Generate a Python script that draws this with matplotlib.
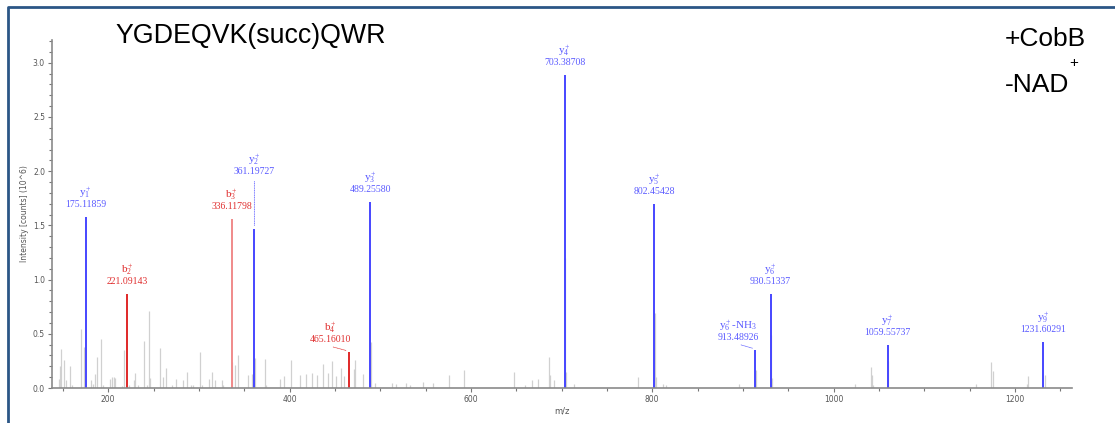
import matplotlib
matplotlib.use("Agg")
import matplotlib.pyplot as plt
from matplotlib.lines import Line2D
from matplotlib.ticker import MultipleLocator

plt.rcParams['mathtext.fontset'] = 'stix'

# annotated fragment ions
ion_mz = [175.11859, 221.09143, 336.11798, 361.19727, 465.16010, 489.25580,
          703.38708, 802.45428, 913.48926, 930.51337, 1059.55737, 1231.60291]
ion_int = [1.58, 0.87, 1.56, 1.47, 0.335, 1.72, 2.885, 1.70, 0.355, 0.866, 0.395, 0.427]
ion_name = [r'$\mathregular{y_1^+}$', r'$\mathregular{b_2^+}$', r'$\mathregular{b_3^+}$',
            r'$\mathregular{y_2^+}$', r'$\mathregular{b_4^+}$', r'$\mathregular{y_3^+}$',
            r'$\mathregular{y_4^+}$', r'$\mathregular{y_5^+}$', r'$\mathregular{y_6^+}$-NH$\mathregular{_3}$',
            r'$\mathregular{y_6^+}$', r'$\mathregular{y_7^+}$', r'$\mathregular{y_9^+}$']
ion_type = ['y', 'b', 'b3', 'y', 'b', 'y', 'y', 'y', 'y', 'y', 'y', 'y']

# unassigned peaks
other_mz = [145.5, 147.3, 148.4, 151.6, 153.8, 157.5, 160, 170, 173, 181, 183, 185, 187.8,
            192.5, 194, 202, 204, 206, 208, 215, 217, 223, 228, 230, 233, 240, 242.5, 245.3,
            246.5, 257.5, 260, 264, 270, 275, 283, 286.8, 291, 294, 301.5, 303, 310.7, 314.3,
            318, 325.4, 327, 337, 340, 343.7, 354.7, 358.5, 362.2, 373, 374, 389.6, 394,
            401.4, 411.7, 418.6, 424.5, 430, 436.6, 442, 446.5, 451, 456.5, 460, 471.2, 472.3,
            481.4, 490, 494, 512.7, 518, 529, 533, 547.6, 557.9, 575.9, 592.4, 647.5, 660,
            668, 674.6, 686, 687, 691.6, 704.4, 705.5, 713.5, 784.8, 803.4, 804.5, 812, 815,
            895.8, 914.5, 931.5, 932.5, 1024, 1041, 1042, 1044, 1060.6, 1157.5, 1174, 1175.5,
            1213.6, 1215, 1233]
other_int = [0.086, 0.20, 0.362, 0.255, 0.077, 0.20, 0.03, 0.54, 0.377, 0.077, 0.04, 0.13, 0.29,
             0.454, 0.03, 0.08, 0.10, 0.105, 0.09, 0.02, 0.353, 0.03, 0.077, 0.14, 0.03, 0.43, 0.03, 0.715,
             0.09, 0.371, 0.10, 0.187, 0.03, 0.086, 0.077, 0.147, 0.03, 0.03, 0.33, 0.03, 0.086, 0.147,
             0.07, 0.077, 0.03, 0.24, 0.21, 0.30, 0.117, 0.13, 0.276, 0.267, 0.03, 0.086, 0.107,
             0.26, 0.117, 0.13, 0.138, 0.123, 0.224, 0.138, 0.245, 0.11, 0.184, 0.11, 0.175, 0.26,
             0.13, 0.42, 0.046, 0.046, 0.037, 0.046, 0.03, 0.052, 0.046, 0.123, 0.169, 0.144, 0.03,
             0.077, 0.083, 0.29, 0.12, 0.077, 1.20, 0.15, 0.04, 0.098, 0.696, 0.10, 0.037, 0.03,
             0.037, 0.17, 0.49, 0.09, 0.037, 0.19, 0.123, 0.03, 0.25, 0.04, 0.24, 0.153,
             0.037, 0.107, 0.117]

line_col = {'y': '#4646ff', 'b': '#e02828', 'b3': '#f08a8a'}
text_col = {'y': '#5a5aff', 'b': '#e03030', 'b3': '#e03030'}

fig = plt.figure(figsize=(11.15, 4.23), dpi=100)
ax = fig.add_axes([0.0466, 0.0827, 0.9148, 0.8227])

ax.vlines(other_mz, 0, other_int, color='#d0d0d0', lw=0.9, zorder=1)
for mz, h, t in zip(ion_mz, ion_int, ion_type):
    ax.vlines(mz, 0, h, color=line_col[t], lw=1.4, zorder=2)

# label offsets in points (dx, dy for the number line), leaders for shifted labels
shift = {3: (0, 41), 4: (-13, 9), 8: (-12, 9)}
for i, (mz, h, name, t) in enumerate(zip(ion_mz, ion_int, ion_name, ion_type)):
    dx, dy = shift.get(i, (0, 9))
    kw = dict(xycoords='data', textcoords='offset points', ha='center', va='center',
              color=text_col[t], family='Liberation Serif')
    ax.annotate(f'{mz:.5f}', (mz, h), xytext=(dx, dy), fontsize=7, **kw)
    ax.annotate(name, (mz, h), xytext=(dx, dy + 8.5), fontsize=8, **kw)
    if i == 3:
        ax.annotate('', (mz, h), xytext=(0, dy - 5), textcoords='offset points',
                    arrowprops=dict(arrowstyle='-', ls=(0, (1, 1.5)), color=line_col[t], lw=0.5))
    elif i in (4, 8):
        ax.annotate('', (mz, h + 0.005), xytext=(dx, dy - 5.5), textcoords='offset points',
                    arrowprops=dict(arrowstyle='-', ls=(0, (1, 1)), color=text_col[t], lw=0.5))

ax.set_xlim(138, 1263)
ax.set_ylim(0, 3.21)
ax.xaxis.set_major_locator(MultipleLocator(200))
ax.xaxis.set_minor_locator(MultipleLocator(50))
ax.yaxis.set_major_locator(MultipleLocator(0.5))
ax.yaxis.set_minor_locator(MultipleLocator(0.1))
ax.yaxis.set_major_formatter(matplotlib.ticker.FormatStrFormatter('%.1f'))

for s in ['top', 'right']:
    ax.spines[s].set_visible(False)
for s in ['left', 'bottom']:
    ax.spines[s].set_color('#8a8a8a')
    ax.spines[s].set_linewidth(1.2)
ax.tick_params(which='both', colors='#777777', labelcolor='#555555', labelsize=5.5, width=0.8)
ax.tick_params(which='major', length=3, pad=2)
ax.tick_params(which='minor', length=2)

ax.set_xlabel('m/z', fontsize=6, color='#555555', labelpad=2)
ax.set_ylabel('Intensity [counts] (10^6)', fontsize=5.5, color='#555555', labelpad=3)

fig.text(115 / 1115, 1 - 36 / 423, 'YGDEQVK(succ)QWR', fontsize=19.3,
         family='Liberation Sans', va='center', ha='left')
fig.text(1005 / 1115, 1 - 38.5 / 423, '+CobB', fontsize=19,
         family='Liberation Sans', va='center', ha='left')
fig.text(1005 / 1115, 1 - 85 / 423, '-NAD', fontsize=19,
         family='Liberation Sans', va='center', ha='left')
fig.text(1074 / 1115, 1 - 63 / 423, '+', fontsize=11,
         family='Liberation Sans', va='center', ha='center')

# frame around the panel
fig.add_artist(Line2D([7.5 / 1115, 7.5 / 1115, 1.0], [0.0, 1 - 7.5 / 423, 1 - 7.5 / 423],
                      transform=fig.transFigure, color='#2b5686', lw=2.0))

fig.savefig('out.png', dpi=100)
